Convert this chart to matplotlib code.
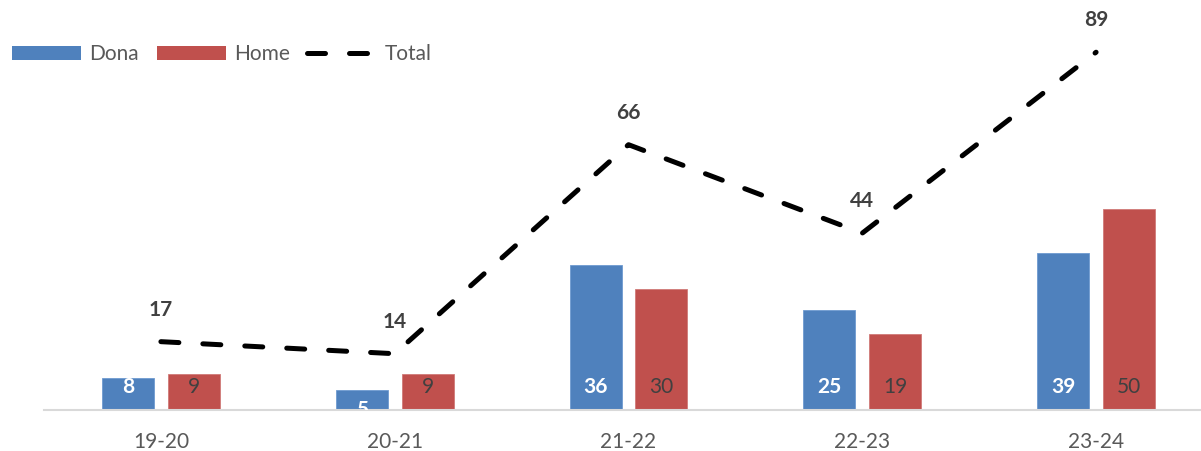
import matplotlib
matplotlib.use("Agg")
import matplotlib.pyplot as plt
from matplotlib.lines import Line2D
from matplotlib.patches import Patch
import numpy as np

categories = ["19-20", "20-21", "21-22", "22-23", "23-24"]
dona = [8, 5, 36, 25, 39]
home = [9, 9, 30, 19, 50]
total = [17, 14, 66, 44, 89]

BLUE = "#4F81BD"
RED = "#C0504D"
TXT = "#404040"
TICK = "#595959"

plt.rcParams['font.family'] = ['Lato', 'DejaVu Sans']

fig = plt.figure(figsize=(12.01, 4.51), dpi=100)
ax = fig.add_axes([44/1201, 41/451, 1169/1201, 402/451])

x = np.arange(len(categories))
w = 0.2225
off = 0.141
ax.bar(x - off, dona, w, color=BLUE, edgecolor="#6F9BD0", linewidth=0.6, zorder=2)
ax.bar(x + off, home, w, color=RED, edgecolor="#D07A78", linewidth=0.6, zorder=2)
ax.plot(x, total, color="black", lw=3.6, ls=(0, (3.6, 4.8)),
        dash_capstyle="round", zorder=3)

ax.set_xlim(-0.5, 4.5)
ax.set_ylim(0, 100)

FS = 15
for xi, v in zip(x, dona):
    ly = 5.7 if v >= 8 else v - 4.9
    ax.text(xi - off, ly, str(v), ha="center", va="center", color="white",
            fontsize=FS, fontweight="bold", zorder=4, clip_on=True)
for xi, v in zip(x, home):
    ax.text(xi + off, 5.7, str(v), ha="center", va="center", color=TXT,
            fontsize=FS, zorder=4)
for xi, v in zip(x, total):
    ax.annotate(str(v), (xi, v), xytext=(0, 23), textcoords="offset points",
                ha="center", va="center", color=TXT, fontsize=FS,
                fontweight="bold", zorder=4)

for s in ["top", "right", "left"]:
    ax.spines[s].set_visible(False)
ax.spines["bottom"].set_color("#D9D9D9")
ax.spines["bottom"].set_linewidth(1.5)
ax.set_yticks([])
ax.set_xticks(x)
ax.set_xticklabels(categories, fontsize=FS, color=TICK)
ax.tick_params(axis="x", length=0, pad=16)

handles = [Patch(facecolor=BLUE), Patch(facecolor=RED),
           Line2D([], [], color="black", lw=3.6, ls=(0, (3.6, 4.8)), dash_capstyle="round")]
fig.legend(handles, ["Dona", "Home", "Total"], loc="upper left",
           bbox_to_anchor=(4/1201, 1 - 36/451), ncol=3, frameon=False,
           fontsize=FS, handlelength=3.3, handleheight=0.7,
           handletextpad=0.4, columnspacing=0.85, labelcolor=TICK,
           borderaxespad=0)

fig.savefig("out.png", dpi=100)
